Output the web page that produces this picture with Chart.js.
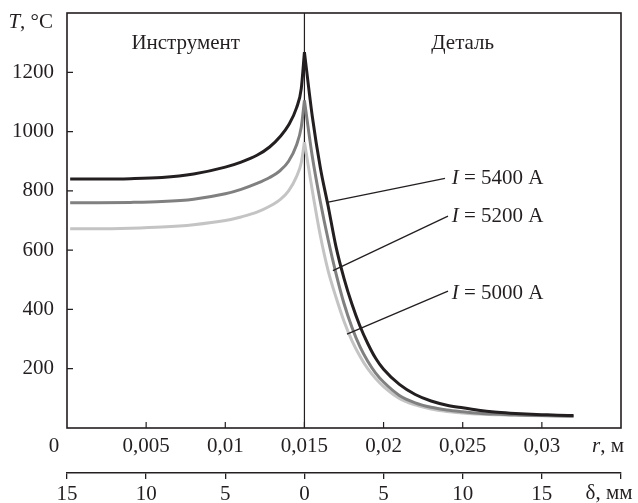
<!DOCTYPE html>
<html>
<head>
<meta charset="utf-8">
<script src="https://cdn.jsdelivr.net/npm/chart.js@4/dist/chart.umd.min.js"></script>
<style>
  body { margin: 0; background: #fff; }
</style>
</head>
<body>
<canvas id="tempChart" width="638" height="503"></canvas>
<script>
// r, м – инструмент (слева) и деталь (справа), пик в точке контакта r = 0,015
var rLeft  = [0.0002, 0.002, 0.004, 0.006, 0.008, 0.010, 0.011, 0.012, 0.0128, 0.0135, 0.014, 0.0145, 0.0148, 0.015];
var rRight = [0.015, 0.0155, 0.016, 0.0165, 0.017, 0.0175, 0.018, 0.0185, 0.019, 0.0195, 0.020, 0.021,
              0.022, 0.023, 0.024, 0.025, 0.026, 0.027, 0.028, 0.029, 0.030, 0.031, 0.032];

// T, °C
var t5400L = [840, 840, 841, 845, 857, 880, 897, 920, 948, 985, 1022, 1080, 1145, 1268];
var t5200L = [760, 760, 761, 764, 772, 790, 805, 825, 845, 870, 900, 955, 1015, 1105];
var t5000L = [672, 672, 674, 678, 686, 700, 712, 728, 748, 772, 800, 848, 895, 965];

var t5400R = [1268, 1050, 880, 748, 610, 505, 418, 345, 285, 235, 198, 147, 113, 91, 77, 68, 60, 54, 50, 47, 45, 43, 42];
var t5200R = [1105, 915, 765, 635, 520, 420, 340, 275, 225, 185, 155, 110, 85, 70, 61, 55, 50, 47, 45, 43, 42, 41, 40];
var t5000R = [965, 800, 650, 530, 440, 360, 295, 243, 200, 167, 140, 100, 78, 64, 56, 51, 47, 45, 43, 42, 41, 40, 39];

var currents = [5400, 5200, 5000];
var colors = ['#231f20', '#808080', '#c4c4c4'];

var FONT = '"Liberation Serif", "DejaVu Serif", serif';
var FS = 21;
var INK = '#231f20';

function pts(xs, ys) {              // пары {x, y}
  var out = [];
  for (var i = 0; i < xs.length; i++) out.push({ x: xs[i], y: ys[i] });
  return out;
}

function series(ys, k, side) {
  return {
    label: 'I = ' + currents[k] + ' ' + side,
    data: pts(side == 'L' ? rLeft : rRight, ys),
    borderColor: colors[k],
    borderWidth: 3,
    pointRadius: 0,
    cubicInterpolationMode: 'monotone',
    order: k
  };
}

// подписи-выноски (в координатах r, T)
var notes = [
  { text: ' = 5400 А', at: [0.0243, 842], from: [0.02388, 842], to: [0.01643, 761] },
  { text: ' = 5200 А', at: [0.0243, 713], from: [0.02407, 715], to: [0.0168, 531] },
  { text: ' = 5000 А', at: [0.0243, 454], from: [0.02407, 462], to: [0.01769, 317] }
];

function mixText(ctx, x, y, parts, align) {   // курсив + прямой текст
  var w = 0;
  parts.forEach(function (p) { ctx.font = (p[1] ? 'italic ' : '') + FS + 'px ' + FONT; w += ctx.measureText(p[0]).width; });
  var cx = align == 'right' ? x - w : (align == 'center' ? x - w / 2 : x);
  ctx.textAlign = 'left';
  ctx.textBaseline = 'middle';
  parts.forEach(function (p) {
    ctx.font = (p[1] ? 'italic ' : '') + FS + 'px ' + FONT;
    ctx.fillText(p[0], cx, y);
    cx += ctx.measureText(p[0]).width;
  });
}

var decor = {
  id: 'decor',
  beforeDatasetsDraw: function (chart) {
    var ctx = chart.ctx, a = chart.chartArea, xs = chart.scales.x;
    var xc = xs.getPixelForValue(0.015);
    ctx.save();
    ctx.strokeStyle = INK;
    ctx.lineWidth = 1.2;
    ctx.beginPath();
    ctx.moveTo(xc, a.top);
    ctx.lineTo(xc, a.bottom);
    ctx.stroke();
    ctx.restore();
  },
  afterDraw: function (chart) {
    var ctx = chart.ctx, a = chart.chartArea;
    var xs = chart.scales.x, ys = chart.scales.y;
    ctx.save();
    ctx.strokeStyle = INK;
    ctx.fillStyle = INK;

    // рамка
    ctx.lineWidth = 1.6;
    ctx.strokeRect(a.left, a.top, a.right - a.left, a.bottom - a.top);

    // внутренние засечки
    ctx.lineWidth = 1.2;
    ctx.beginPath();
    xs.ticks.forEach(function (t) {
      if (t.value < 0.001 || t.value > 0.034) return;
      var px = xs.getPixelForValue(t.value);
      ctx.moveTo(px, a.bottom);
      ctx.lineTo(px, a.bottom - 6);
    });
    ys.ticks.forEach(function (t) {
      if (t.value <= 0 || t.value >= 1400) return;
      var py = ys.getPixelForValue(t.value);
      ctx.moveTo(a.left, py);
      ctx.lineTo(a.left + 6, py);
    });
    ctx.stroke();

    // выноски
    ctx.lineWidth = 1.3;
    notes.forEach(function (n) {
      ctx.beginPath();
      ctx.moveTo(xs.getPixelForValue(n.from[0]), ys.getPixelForValue(n.from[1]));
      ctx.lineTo(xs.getPixelForValue(n.to[0]), ys.getPixelForValue(n.to[1]));
      ctx.stroke();
      mixText(ctx, xs.getPixelForValue(n.at[0]), ys.getPixelForValue(n.at[1]), [['I', true], [n.text, false]], 'left');
    });

    // подписи
    var x0 = xs.getPixelForValue(0), xEnd = xs.getPixelForValue(0.035);
    mixText(ctx, a.left - 14, a.top + 9, [['T', true], [', °C', false]], 'right');
    mixText(ctx, (a.left + xs.getPixelForValue(0.015)) / 2, a.top + 30, [['Инструмент', false]], 'center');
    mixText(ctx, (a.right + xs.getPixelForValue(0.015)) / 2, a.top + 30, [['Деталь', false]], 'center');
    mixText(ctx, x0 - 13, a.bottom + 18, [['0', false]], 'center');
    mixText(ctx, xEnd - 13, a.bottom + 18, [['r', true], [', м', false]], 'center');
    mixText(ctx, xEnd - 12, a.bottom + 65, [['δ, мм', false]], 'center');
    ctx.restore();
  }
};

function rLabel(v) {
  if (v < 0.001 || v > 0.034) return '';
  return String(Math.round(v * 1000) / 1000).replace('.', ',');
}

function dLabel(v) {
  if (v > 0.034) return '';
  return String(Math.round(Math.abs(v - 0.015) * 1000));
}

function noPadX(s, h) { s.height = h; s.paddingLeft = 0; s.paddingRight = 0; }

function init() {
  var ctx = document.getElementById('tempChart').getContext('2d');
  new Chart(ctx, {
    type: 'line',
    data: {
      datasets: [
        series(t5400L, 0, 'L'), series(t5400R, 0, 'R'),
        series(t5200L, 1, 'L'), series(t5200R, 1, 'R'),
        series(t5000L, 2, 'L'), series(t5000R, 2, 'R')
      ]
    },
    options: {
      responsive: false,
      animation: false,
      layout: { padding: { top: 13, right: 17, left: 0, bottom: 0 } },
      plugins: { legend: { display: false }, tooltip: { enabled: false } },
      scales: {
        x: {
          type: 'linear', position: 'bottom', weight: 0,
          min: 0, max: 0.035,
          afterFit: function (s) { noPadX(s, 45); },
          grid: { display: false, drawTicks: false },
          border: { display: false },
          ticks: { stepSize: 0.005, autoSkip: false, maxRotation: 0, padding: 6,
                   color: INK, font: { family: FONT, size: FS }, callback: rLabel }
        },
        x2: {
          type: 'linear', position: 'bottom', weight: 1,
          min: 0, max: 0.035,
          afterFit: function (s) { noPadX(s, 30); },
          grid: { drawOnChartArea: false, drawTicks: true, tickLength: 6, color: INK, lineWidth: 1.3 },
          border: { display: true, color: INK, width: 1.6 },
          ticks: { stepSize: 0.005, autoSkip: false, maxRotation: 0, padding: 3,
                   color: INK, font: { family: FONT, size: FS }, callback: dLabel }
        },
        y: {
          min: 0, max: 1400,
          afterFit: function (s) { s.width = 67; s.paddingTop = 0; s.paddingBottom = 0; },
          grid: { display: false, drawTicks: false },
          border: { display: false },
          ticks: { stepSize: 200, padding: 13, color: INK, font: { family: FONT, size: FS },
                   callback: function (v) { return (v <= 0 || v >= 1400) ? '' : String(v); } }
        }
      }
    },
    plugins: [decor]
  });
}

init();
</script>
</body>
</html>
